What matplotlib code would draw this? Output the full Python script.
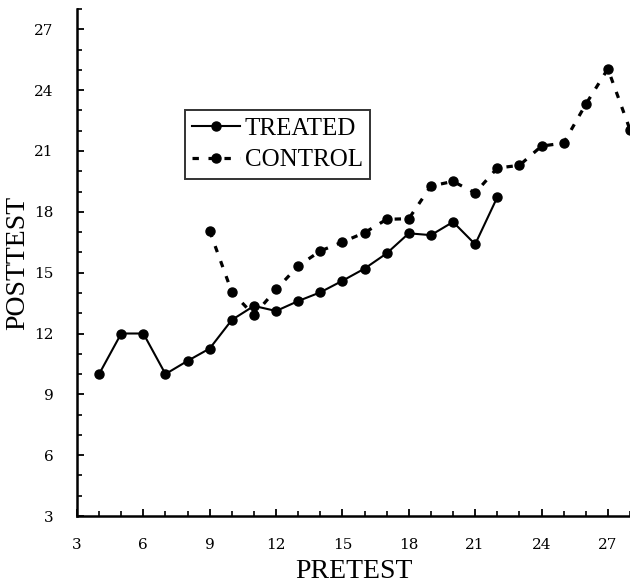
import matplotlib
matplotlib.use("Agg")
import matplotlib.pyplot as plt
from matplotlib.ticker import MultipleLocator

# Mean posttest score at each pretest score
treated_pretest = [4, 5, 6, 7, 8, 9, 10, 11, 12, 13, 14, 15, 16, 17, 18, 19, 20, 21, 22]
treated_posttest = [10.0, 12.0, 12.0, 10.0, 10.65, 11.26, 12.67, 13.36, 13.11, 13.6,
                    14.03, 14.6, 15.2, 15.95, 16.94, 16.85, 17.5, 16.4, 18.72]

control_pretest = [9, 10, 11, 12, 13, 14, 15, 16, 17, 18, 19, 20, 21, 22, 23, 24, 25, 26, 27, 28]
control_posttest = [17.05, 14.05, 12.9, 14.17, 15.33, 16.07, 16.51, 16.97, 17.63, 17.66,
                    19.27, 19.5, 18.93, 20.16, 20.29, 21.24, 21.39, 23.3, 25.05, 22.05]

ticks = [3, 6, 9, 12, 15, 18, 21, 24, 27]

fig = plt.figure(figsize=(6.3, 5.85), dpi=100)
ax = fig.add_axes([0.1222, 0.1179, 0.8778, 0.8667])

ax.plot(treated_pretest, treated_posttest, color="black", lw=1.5,
        marker="o", markersize=6.5, label="TREATED", clip_on=False, zorder=3)
ax.plot(control_pretest, control_posttest, color="black", lw=2.3,
        linestyle=(0, (2.0, 3.0)), marker="o", markersize=6.5,
        label="CONTROL", clip_on=True, zorder=3)

ax.set_xlim(3, 28)
ax.set_ylim(3, 28)
ax.xaxis.set_minor_locator(MultipleLocator(1))
ax.yaxis.set_minor_locator(MultipleLocator(1))
ax.set_xticks(ticks)
ax.set_yticks(ticks)
ax.set_xticklabels([str(t) for t in ticks])
ax.set_yticklabels([str(t) for t in ticks])

for side in ("top", "right"):
    ax.spines[side].set_visible(False)
for side in ("left", "bottom"):
    ax.spines[side].set_linewidth(1.8)

ax.tick_params(which="major", direction="in", length=5, width=1.3,
               labelsize=11, colors="black")
ax.tick_params(which="minor", direction="in", length=3.5, width=1.2)
ax.tick_params(axis="x", which="major", pad=16)
ax.tick_params(axis="y", which="major", pad=17)
for lab in ax.get_xticklabels() + ax.get_yticklabels():
    lab.set_family("DejaVu Serif")

ax.set_xlabel("PRETEST", family="Liberation Serif", fontsize=20, labelpad=5)
ax.set_ylabel("POSTTEST", family="Liberation Serif", fontsize=20, labelpad=3)

leg = ax.legend(loc="upper left", bbox_to_anchor=(0.195, 0.801),
                prop={"family": "Liberation Serif", "size": 18},
                frameon=True, fancybox=False, handlelength=1.9,
                handletextpad=0.2, borderpad=0.3, labelspacing=0.36,
                borderaxespad=0.0)
leg.get_frame().set_edgecolor("black")
leg.get_frame().set_linewidth(1.4)

fig.savefig("out.png", dpi=100)
